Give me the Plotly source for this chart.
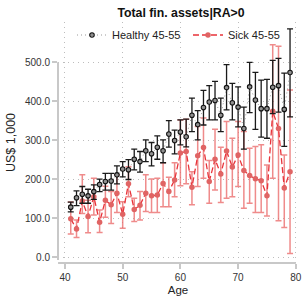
import plotly.graph_objects as go

ages = list(range(41, 80))

healthy_mean = [128, 152, 161, 157, 168, 186, 194, 195, 211, 226, 224, 251, 245, 273, 265, 282, 273, 316, 299, 321,
                309, 364, 340, 384, 398, 402, 364, 435, 396, 385, 330, 437, 403, 381, 381, 436, 440, 379, 474]
healthy_hi = [141, 170, 181, 174, 185, 200, 215, 215, 234, 245, 250, 277, 271, 301, 294, 311, 301, 350, 326, 352,
              354, 408, 376, 428, 440, 451, 408, 494, 446, 437, 385, 500, 474, 454, 456, 505, 510, 472, 586]
healthy_lo = [116, 132, 138, 138, 148, 168, 172, 172, 188, 206, 199, 224, 218, 245, 234, 251, 242, 282, 265, 288,
              283, 322, 301, 339, 352, 352, 322, 378, 352, 334, 277, 371, 328, 308, 305, 368, 372, 284, 360]

sick_mean = [98, 72, 144, 104, 155, 89, 146, 134, 164, 110, 188, 122, 133, 164, 157, 159, 189, 168, 198, 267,
             271, 179, 260, 281, 194, 251, 213, 272, 231, 262, 222, 209, 201, 196, 157, 374, 330, 177, 219]
sick_hi = [141, 95, 211, 146, 202, 121, 182, 168, 211, 142, 232, 151, 168, 211, 200, 202, 242, 205, 242, 352,
           354, 219, 335, 357, 248, 328, 282, 348, 305, 348, 322, 279, 284, 288, 236, 545, 541, 262, 429]
sick_lo = [59, 50, 112, 62, 108, 63, 102, 86, 114, 74, 155, 91, 95, 117, 114, 114, 129, 129, 155, 183,
           188, 134, 181, 202, 138, 172, 140, 151, 155, 181, 125, 138, 114, 114, 105, 202, 93, 76, 9]

y_ticks = [0, 100, 200, 300, 400, 500]
y_ticklabels = ["0.0", "100.0", "200.0", "300.0", "400.0", "500.0"]
x_ticks = [40, 50, 60, 70, 80]

FONT = "Liberation Sans, Arial, Helvetica, sans-serif"

fig = go.Figure()

fig.add_trace(go.Scatter(
    x=ages, y=sick_mean, mode="lines+markers", name="Sick 45-55",
    line=dict(color="#e8333a", width=1.3, dash="6px,3px"),
    marker=dict(color="#e06464", size=5.5, line=dict(width=0)),
    error_y=dict(type="data", symmetric=False,
                 array=[h - m for h, m in zip(sick_hi, sick_mean)],
                 arrayminus=[m - l for m, l in zip(sick_mean, sick_lo)],
                 color="rgba(234,100,100,0.75)", thickness=1.5, width=3),
    legend="legend2",
))

fig.add_trace(go.Scatter(
    x=ages, y=healthy_mean, mode="lines+markers", name="Healthy 45-55",
    line=dict(color="#9a9a9a", width=1, dash="1px,3px"),
    marker=dict(color="#909090", size=4.5, line=dict(color="#111111", width=1.1)),
    error_y=dict(type="data", symmetric=False,
                 array=[h - m for h, m in zip(healthy_hi, healthy_mean)],
                 arrayminus=[m - l for m, l in zip(healthy_mean, healthy_lo)],
                 color="#1a1a1a", thickness=1.3, width=3),
    legend="legend",
))

# axis lines (Stata-style, spanning the tick range)
fig.add_shape(type="line", xref="paper", yref="y", x0=0, x1=0, y0=-8, y1=500,
              line=dict(color="#c8c8c8", width=2))
fig.add_shape(type="line", xref="x", yref="paper", x0=38.8, x1=80, y0=0, y1=0,
              line=dict(color="#c8c8c8", width=2))

legend_common = dict(orientation="h", xref="paper", xanchor="left",
                     y=1 + (22 - 35) / 241, yref="paper", yanchor="middle",
                     bgcolor="rgba(0,0,0,0)", font=dict(size=11, color="#222222"))

fig.update_layout(
    width=302, height=296,
    margin=dict(l=58, r=4, t=22, b=33, autoexpand=False),
    paper_bgcolor="white", plot_bgcolor="white",
    font=dict(family=FONT, color="#333333", size=11),
    title=dict(text="Total fin. assets|RA>0", x=181/302, xanchor="center", xref="container",
               y=1 - 13/296, yanchor="middle", yref="container",
               font=dict(size=12.3, family=FONT, color="#111111", weight="bold")),
    showlegend=True,
    legend=dict(x=(72 - 58) / 240, **legend_common),
    legend2=dict(x=(188 - 58) / 240, **legend_common),
    xaxis=dict(range=[38.79, 80.38], tickvals=x_ticks, ticks="outside", ticklen=5,
               tickcolor="#c8c8c8", tickwidth=1.5,
               showgrid=True, gridcolor="#bdbdbd", griddash="1px,4px", gridwidth=1,
               zeroline=False, showline=False,
               tickfont=dict(size=10, color="#333333"),
               title=dict(text="Age", font=dict(size=11.5, color="#222222"), standoff=3)),
    yaxis=dict(range=[-15.4, 603.5], tickvals=y_ticks, ticktext=y_ticklabels, ticks="outside",
               ticklen=5, tickcolor="#c8c8c8", tickwidth=1.5,
               showgrid=True, gridcolor="#bdbdbd", griddash="1px,4px", gridwidth=1,
               zeroline=False, showline=False,
               tickfont=dict(size=10, color="#333333"),
               title=dict(text="US$ 1,000", font=dict(size=12.5, color="#222222"), standoff=6)),
)

fig.write_html("out.html", config={"displayModeBar": False},
               post_script="document.body.style.margin='0';")
